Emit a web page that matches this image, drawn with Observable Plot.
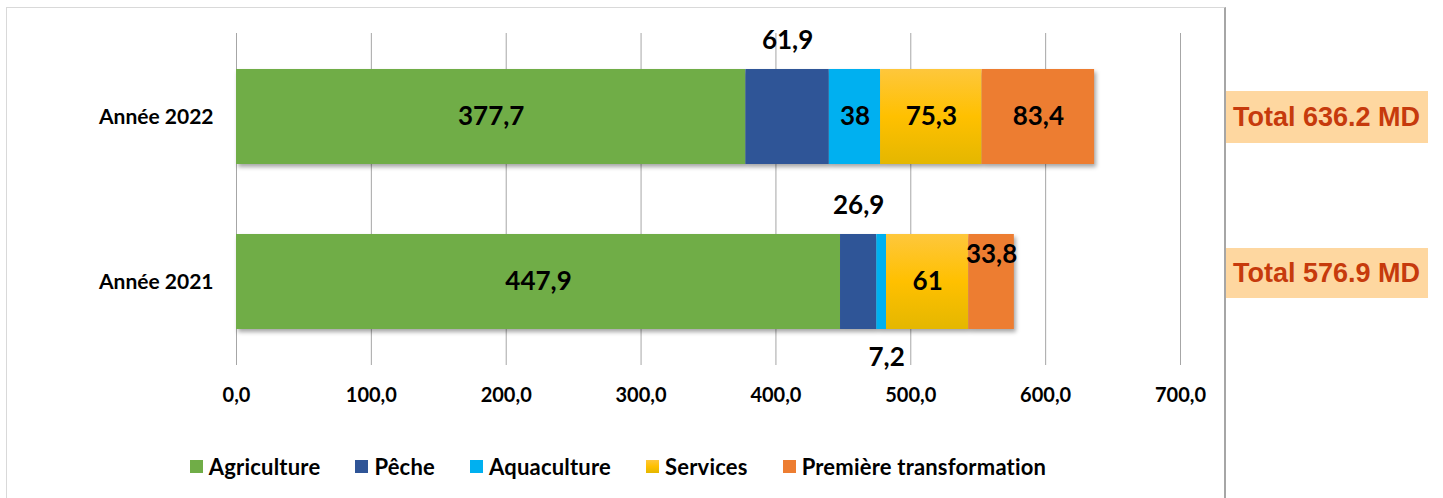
<!DOCTYPE html>
<html><head><meta charset="utf-8">
<script src="https://cdn.jsdelivr.net/npm/d3@7"></script>
<script src="https://cdn.jsdelivr.net/npm/@observablehq/plot@0.6"></script>
<style>
body{margin:0;background:#fff;font-family:Lato,sans-serif;}
#wrap{position:relative;width:1443px;height:498px;overflow:hidden;background:#fff;}
#frame{position:absolute;left:6px;top:7px;width:1220px;height:520px;border:1px solid #d9d9d9;border-right:2px solid #a6a6a6;box-sizing:border-box;}
#chart{position:absolute;left:0;top:0;}
#legend{position:absolute;left:6px;width:1224px;top:453px;display:flex;justify-content:center;}
.lg-swatches{font-family:Lato,sans-serif !important;font-size:22px !important;letter-spacing:0.2px;font-weight:bold;color:#000;margin:0 !important;min-height:0 !important;}
.lg-swatch{margin-right:35px !important;}
.lg-swatch:last-child{margin-right:0 !important;}
.lg-swatch > svg{margin-right:6px !important;}
.total{position:absolute;left:1226px;width:202px;background:#fed7a0;color:#c63a0c;font-family:"Liberation Sans",Arial,sans-serif;font-weight:bold;font-size:27px;white-space:nowrap;overflow:hidden;padding-left:7px;box-sizing:border-box;}
</style></head>
<body>
<svg width="0" height="0" style="position:absolute"><defs>
<linearGradient id="svcGrad" x1="0" y1="0" x2="0" y2="1">
<stop offset="0" stop-color="#fec73c"/><stop offset="0.5" stop-color="#ffc000"/><stop offset="1" stop-color="#e4b700"/>
</linearGradient></defs></svg>
<div id="wrap">
<div id="frame"></div>
<div id="chart"></div>
<div id="legend"></div>
</div>
<script>
const years = ["Année 2022", "Année 2021"];
const categories = ["Agriculture", "Pêche", "Aquaculture", "Services", "Première transformation"];
const values2022 = [377.7, 61.9, 38, 75.3, 83.4];
const values2021 = [447.9, 26.9, 7.2, 61, 33.8];
const totals = [636.2, 576.9];
const xTicks = [0, 100, 200, 300, 400, 500, 600, 700];
const colors = ["#70ad47", "#2f5597", "#00b0f0", "url(#svcGrad)", "#ed7d31"];

const placement = {
  "Année 2022|Pêche": "above",
  "Année 2021|Pêche": "above",
  "Année 2021|Aquaculture": "below",
  "Année 2021|Première transformation": "top"
};

const series = [values2022, values2021];
const data = [];
years.forEach((y, i) => categories.forEach((c, j) => {
  data.push({year: y, category: c, value: series[i][j],
    label: String(series[i][j]).replace(".", ","),
    place: placement[y + "|" + c] || "in"});
}));

const fmt = d => d3.format(".1f")(d).replace(".", ",");
const labelMark = (place, extra) => Plot.text(data, Plot.stackX({
  x: "value", y: "year",
  text: d => d.place === place ? d.label : "",
  fontSize: 26, fontWeight: "bold", fill: "#000", ...extra
}));

const chart = Plot.plot({
  width: 1443, height: 420,
  marginLeft: 236, marginRight: 263, marginTop: 33, marginBottom: 55,
  x: {domain: [0, 700]},
  y: {domain: years, paddingInner: 0.4242, paddingOuter: 0.218},
  color: {domain: categories, range: colors},
  style: {fontFamily: "Lato, sans-serif", fontSize: "20px", color: "#000", background: "transparent", overflow: "visible"},
  marks: [
    Plot.gridX(xTicks, {stroke: "#a6a6a6", strokeOpacity: 1}),
    Plot.axisX({ticks: xTicks, tickFormat: fmt, tickSize: 0, tickPadding: 22, fontWeight: "bold", fontSize: 20, label: null}),
    Plot.axisY({tickSize: 0, tickPadding: 23, fontWeight: "bold", fontSize: 21, label: null}),
    Plot.barX(data, {x: "value", y: "year", fill: "category"}),
    labelMark("in", {}),
    labelMark("above", {dy: -76}),
    labelMark("below", {dy: 76, dx: 5}),
    labelMark("top", {dy: -27})
  ]
});
d3.select(chart).selectAll('g[aria-label="bar"]').style("filter", "drop-shadow(2px 3px 2px rgba(0,0,0,0.35))");
document.getElementById("chart").appendChild(chart);

const legend = Plot.legend({
  color: {type: "ordinal", domain: categories, range: colors},
  swatchSize: 13, className: "lg"
});
document.getElementById("legend").appendChild(legend);

// Total boxes positioned from the y band scale
const yScale = chart.scale("y");
const wrap = document.getElementById("wrap");
const boxOffsets = [0, -9];
const boxHeights = [52, 50];
years.forEach((y, i) => {
  const div = document.createElement("div");
  div.className = "total";
  const center = yScale.apply(y) + yScale.bandwidth / 2 + boxOffsets[i];
  div.style.top = (center - boxHeights[i] / 2) + "px";
  div.style.height = boxHeights[i] + "px";
  div.style.lineHeight = boxHeights[i] + "px";
  div.textContent = "Total " + totals[i].toFixed(1) + " MD";
  wrap.appendChild(div);
});
</script>
</body></html>
